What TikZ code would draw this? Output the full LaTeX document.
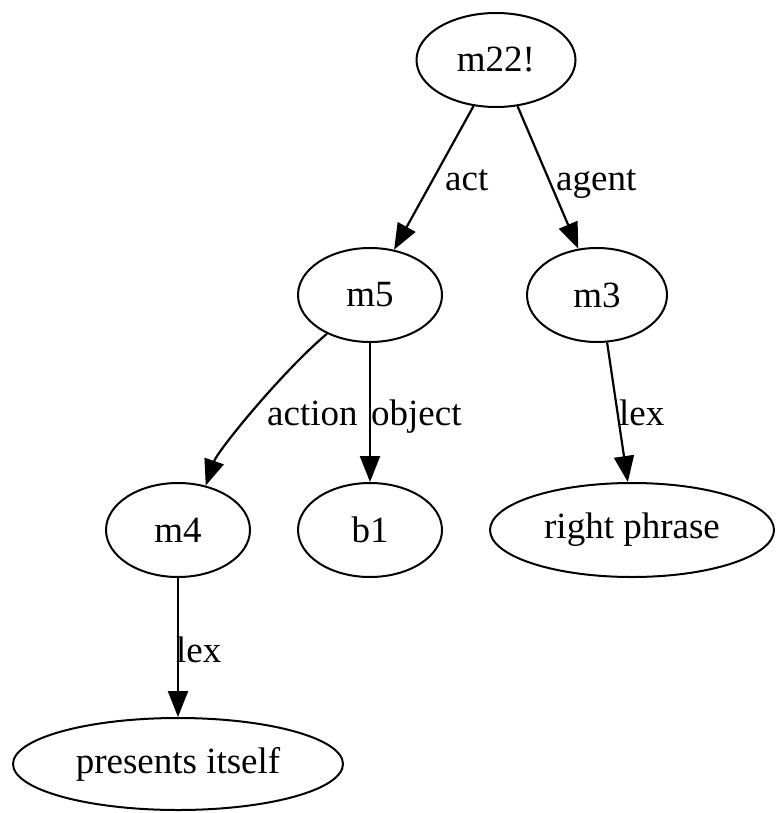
\documentclass[tikz,border=0pt]{standalone}
\usepackage{fontspec}
\setmainfont{Liberation Serif}
\usetikzlibrary{shapes.geometric,arrows.meta}
\begin{document}
\begin{tikzpicture}[x=1pt,y=-1pt,
  nd/.style={ellipse,draw,line width=2pt,inner sep=0pt,font=\fontsize{37}{40}\selectfont},
  lbl/.style={inner sep=0pt,font=\fontsize{37}{40}\selectfont},
  edge/.style={line width=2.2pt,-{Triangle[length=26pt,width=20pt]}}]
\useasboundingbox (0,0) rectangle (777,813);
\node[nd,minimum width=159pt,minimum height=94pt] (m22) at (496,60) {m22!};
\node[nd,minimum width=144pt,minimum height=94pt] (m5) at (370,295) {m5};
\node[nd,minimum width=140pt,minimum height=94pt] (m3) at (597,295) {m3};
\node[nd,minimum width=144pt,minimum height=94pt] (m4) at (178,530) {m4};
\node[nd,minimum width=144pt,minimum height=94pt] (b1) at (370,530) {b1};
\node[nd,minimum width=284pt,minimum height=94pt] (rp) at (632,530) {right phrase};
\node[nd,minimum width=330pt,minimum height=92pt] (pi) at (178,764) {presents itself};
\draw[edge] (m22.-116.6) -- (m5.62);
\draw[edge] (m22.-65.4) -- (m3.112);
\draw[edge] (m5.-138) .. controls +(-45,38) and +(12,-35) .. (m4.58);
\draw[edge] (m5.south) -- (b1.north);
\draw[edge] (m3.-78) -- (rp.95);
\draw[edge] (m4.south) -- (pi.north);
\node[lbl,anchor=base west] (lact) at (445,190) {act};
\node[lbl,anchor=base west] (lagent) at (556,190) {agent};
\node[lbl,anchor=base west] (laction) at (267,425) {action};
\node[lbl,anchor=base west] (lobject) at (371,425) {object};
\node[lbl,anchor=base west] (llex1) at (619,425) {lex};
\node[lbl,anchor=base west] (llex2) at (176,662) {lex};
\end{tikzpicture}
\end{document}
